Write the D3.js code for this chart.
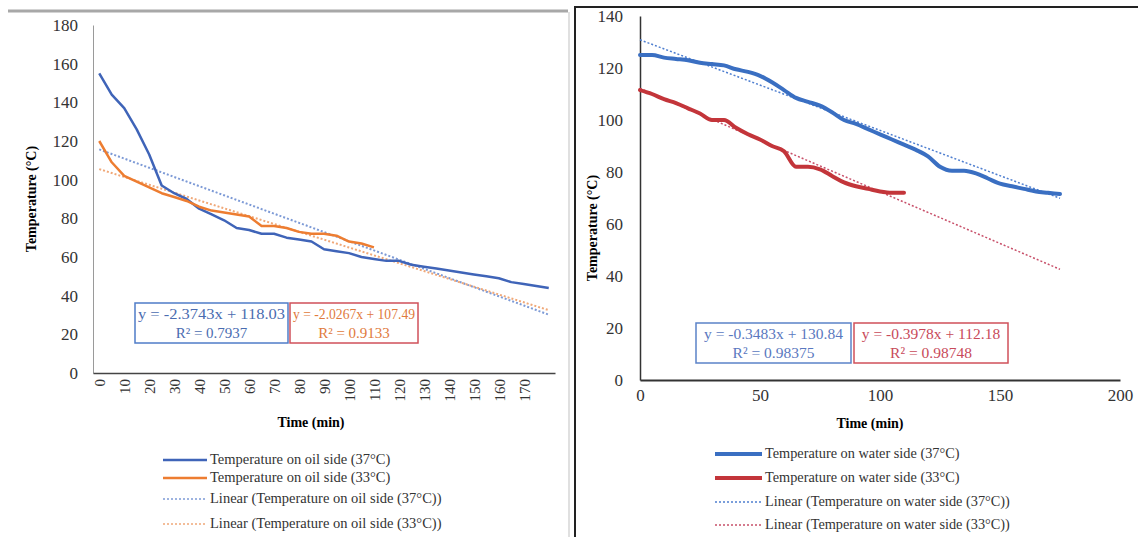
<!DOCTYPE html>
<html>
<head>
<meta charset="utf-8">
<script src="https://cdn.jsdelivr.net/npm/d3@7"></script>
<style>
  body { margin: 0; background: #fff; }
  svg, svg text { font-family: "Liberation Serif", "Times New Roman", serif; }
</style>
</head>
<body>
<div id="chart"></div>
<script>
// left panel: oil side, readings every 5 min
const oilTime = [0, 5, 10, 15, 20, 25, 30, 35, 40, 45, 50, 55, 60, 65, 70, 75, 80, 85, 90,
                 95, 100, 105, 110, 115, 120, 125, 130, 135, 140, 145, 150, 155, 160, 165, 170, 175, 180];
const oil37 = [155, 144, 137, 126, 113, 97, 93, 90, 85, 82, 79, 75, 74, 72, 72, 70, 69, 68, 64,
               63, 62, 60, 59, 58, 58, 56, 55, 54, 53, 52, 51, 50, 49, 47, 46, 45, 44];
const oil33 = [120, 109, 102, 99, 96, 93, 91, 89, 86, 84, 83, 82, 81, 76, 76, 75, 73, 72, 72,
               71, 68, 67, 65];
const oilTicksX = [0, 10, 20, 30, 40, 50, 60, 70, 80, 90, 100, 110, 120, 130, 140, 150, 160, 170];
const oilTicksY = [0, 20, 40, 60, 80, 100, 120, 140, 160, 180];
const oilSlope = [-2.3743, -2.0267];
const oilIntercept = [118.03, 107.49];
const oilR2 = ["0.7937", "0.9133"];
const oilLegend = ["Temperature on oil side (37°C)", "Temperature on oil side (33°C)",
                   "Linear (Temperature on oil side (37°C))", "Linear (Temperature on oil side (33°C))"];

// right panel: water side
const waterTime = [0, 5, 10, 15, 20, 25, 30, 35, 40, 45, 50, 55, 60, 65, 70, 75, 80, 85, 90,
                   95, 100, 105, 110, 115, 120, 125, 130, 135, 140, 145, 150, 155, 160, 165, 170, 175];
const water37 = [125, 125, 124, 123.5, 123, 122, 121.5, 121, 119.5, 118.5, 117, 114.5, 111.5, 108.5,
                 107, 105.5, 103, 100, 98.5, 96.5, 94.5, 92.5, 90.5, 88.5, 86, 82, 80.5, 80.5, 79.5,
                 77.5, 75.5, 74.5, 73.5, 72.5, 72, 71.5];
const water33 = [111.5, 110, 108, 106.5, 104.5, 102.5, 100, 100, 97, 94.5, 92.5, 90, 88, 82, 82, 81,
                 78.5, 76, 74.5, 73.5, 72.5, 72, 72];
const waterTicksX = [0, 50, 100, 150, 200];
const waterTicksY = [0, 20, 40, 60, 80, 100, 120, 140];
const waterSlope = [-0.3483, -0.3978];
const waterIntercept = [130.84, 112.18];
const waterR2 = ["0.98375", "0.98748"];
const waterLegend = ["Temperature on water side (37°C)", "Temperature on water side (33°C)",
                     "Linear (Temperature on water side (37°C))", "Linear (Temperature on water side (33°C))"];

const svg = d3.select("#chart").append("svg")
  .attr("width", 1138)
  .attr("height", 537);

// panel frames
svg.append("line").attr("x1", 8).attr("x2", 568).attr("y1", 11).attr("y2", 11)
  .attr("stroke", "#a8a8a8").attr("stroke-width", 3);
svg.append("line").attr("x1", 569).attr("x2", 569).attr("y1", 12).attr("y2", 537)
  .attr("stroke", "#d6d6d6").attr("stroke-width", 1.5);
svg.append("path").attr("d", "M575,537V7H1138")
  .attr("fill", "none").attr("stroke", "#222").attr("stroke-width", 2);

function eqText(s, b) {
  return "y = " + s + "x + " + b;
}

// ---------- left: oil side ----------
const xL = d3.scaleLinear().domain([-2.5, 182.5]).range([93, 555]);
const yL = d3.scaleLinear().domain([0, 180]).range([373, 25]);

const gYL = svg.append("g").attr("transform", "translate(93,0)")
  .call(d3.axisLeft(yL).tickValues(oilTicksY).tickSize(0).tickPadding(15))
  .attr("font-family", null).attr("font-size", null);
gYL.select(".domain").attr("stroke", "#9a9a9a");
gYL.selectAll("text").style("font-size", "17px").attr("fill", "#333");

const gXL = svg.append("g").attr("transform", "translate(0,373)")
  .call(d3.axisBottom(xL).tickValues(oilTicksX).tickSize(0))
  .attr("font-family", null).attr("font-size", null);
gXL.select(".domain").attr("stroke", "#444").attr("stroke-width", 1.5);
gXL.selectAll("text")
  .attr("transform", "rotate(-90)")
  .attr("x", -6).attr("y", 0).attr("dy", "0.35em")
  .style("text-anchor", "end")
  .style("font-size", "15px").attr("fill", "#333");

svg.append("text").attr("transform", "translate(36,199) rotate(-90)")
  .attr("text-anchor", "middle").style("font-size", "14px").style("font-weight", "bold")
  .text("Temperature (°C)");
svg.append("text").attr("x", 311).attr("y", 427)
  .attr("text-anchor", "middle").style("font-size", "14px").style("font-weight", "bold")
  .text("Time (min)");

const oilColors = ["#3f64b8", "#ed7d31"];
const oilTrendColors = ["#7d9ad6", "#f0a878"];
const lineL = d3.line().x((d, i) => xL(oilTime[i])).y(d => yL(d));

[oil37, oil33].forEach(function(s, k) {
  // trend over category index 1..37
  const tr = oilTime.map((t, i) => [t, oilSlope[k] * (i + 1) + oilIntercept[k]]);
  svg.append("path").datum(tr)
    .attr("d", d3.line().x(d => xL(d[0])).y(d => yL(d[1])))
    .attr("fill", "none").attr("stroke", oilTrendColors[k])
    .attr("stroke-width", 2).attr("stroke-dasharray", "2,2");
});
[oil37, oil33].forEach(function(s, k) {
  svg.append("path").datum(s)
    .attr("d", lineL)
    .attr("fill", "none").attr("stroke", oilColors[k])
    .attr("stroke-width", 2.5).attr("stroke-linejoin", "round");
});

// equation boxes
const oilBoxes = [{x: 135, w: 153, stroke: "#4f7cc8", fill: "#4a6cb0"},
                  {x: 290, w: 128, stroke: "#d0505a", fill: "#df7a3c"}];
oilBoxes.forEach(function(b, k) {
  svg.append("rect").attr("x", b.x).attr("y", 303).attr("width", b.w).attr("height", 40)
    .attr("fill", "#fff").attr("stroke", b.stroke).attr("stroke-width", 1.5);
  svg.append("text").attr("x", b.x + b.w / 2).attr("y", 319).attr("text-anchor", "middle")
    .style("font-size", "15px").attr("fill", b.fill)
    .attr("textLength", b.w - 6).attr("lengthAdjust", "spacingAndGlyphs")
    .text(eqText(oilSlope[k].toFixed(4), oilIntercept[k].toFixed(2)));
  svg.append("text").attr("x", b.x + b.w / 2).attr("y", 338).attr("text-anchor", "middle")
    .style("font-size", "15px").attr("fill", b.fill)
    .text("R² = " + oilR2[k]);
});

// legend
const oilLegY = [460, 478, 499, 524];
const oilLegStroke = [oilColors[0], oilColors[1], oilTrendColors[0], oilTrendColors[1]];
oilLegend.forEach(function(label, k) {
  svg.append("line").attr("x1", 163).attr("x2", 207)
    .attr("y1", oilLegY[k]).attr("y2", oilLegY[k])
    .attr("stroke", oilLegStroke[k]).attr("stroke-width", k < 2 ? 2.5 : 1.5)
    .attr("stroke-dasharray", k < 2 ? null : "2,2");
  svg.append("text").attr("x", 210).attr("y", oilLegY[k] + 4)
    .style("font-size", "14.5px").attr("fill", "#333").text(label);
});

// ---------- right: water side ----------
const xR = d3.scaleLinear().domain([0, 200]).range([640, 1120]);
const yR = d3.scaleLinear().domain([0, 140]).range([380, 16]);

const gYR = svg.append("g").attr("transform", "translate(640,0)")
  .call(d3.axisLeft(yR).tickValues(waterTicksY).tickSize(0).tickPadding(17))
  .attr("font-family", null).attr("font-size", null);
gYR.select(".domain").attr("stroke", "#333").attr("stroke-width", 1.5);
gYR.selectAll("text").style("font-size", "17px").attr("fill", "#333");

const gXR = svg.append("g").attr("transform", "translate(0,380)")
  .call(d3.axisBottom(xR).tickValues(waterTicksX).tickSize(0).tickPadding(9))
  .attr("font-family", null).attr("font-size", null);
gXR.select(".domain").attr("stroke", "#333").attr("stroke-width", 2);
gXR.selectAll("text").style("font-size", "17px").attr("fill", "#333");

svg.append("text").attr("transform", "translate(597,228) rotate(-90)")
  .attr("text-anchor", "middle").style("font-size", "14px").style("font-weight", "bold")
  .text("Temperature (°C)");
svg.append("text").attr("x", 870).attr("y", 428)
  .attr("text-anchor", "middle").style("font-size", "14px").style("font-weight", "bold")
  .text("Time (min)");

const waterColors = ["#3a6fc2", "#c3353a"];
const waterTrendColors = ["#4f7fd0", "#c8506a"];
const trendEnd = waterTime[waterTime.length - 1];

[0, 1].forEach(function(k) {
  svg.append("path").datum([0, trendEnd])
    .attr("d", d3.line().x(t => xR(t)).y(t => yR(waterSlope[k] * t + waterIntercept[k])))
    .attr("fill", "none").attr("stroke", waterTrendColors[k])
    .attr("stroke-width", 1.5).attr("stroke-dasharray", "2,2");
});
[water37, water33].forEach(function(s, k) {
  svg.append("path").datum(s)
    .attr("d", d3.line().curve(d3.curveMonotoneX).x((d, i) => xR(waterTime[i])).y(d => yR(d)))
    .attr("fill", "none").attr("stroke", waterColors[k])
    .attr("stroke-width", 4).attr("stroke-linecap", "round");
});

const waterBoxes = [{x: 696, w: 155, stroke: "#5b82c8", fill: "#5a78c0"},
                    {x: 854, w: 154, stroke: "#d0505a", fill: "#c84a5a"}];
waterBoxes.forEach(function(b, k) {
  svg.append("rect").attr("x", b.x).attr("y", 323).attr("width", b.w).attr("height", 40)
    .attr("fill", "#fff").attr("stroke", b.stroke).attr("stroke-width", 1.5);
  svg.append("text").attr("x", b.x + b.w / 2).attr("y", 339).attr("text-anchor", "middle")
    .style("font-size", "15.5px").attr("fill", b.fill)
    .text(eqText(waterSlope[k].toFixed(4), waterIntercept[k].toFixed(2)));
  svg.append("text").attr("x", b.x + b.w / 2).attr("y", 358).attr("text-anchor", "middle")
    .style("font-size", "15.5px").attr("fill", b.fill)
    .text("R² = " + waterR2[k]);
});

const waterLegY = [454, 478, 502, 525];
const waterLegStroke = [waterColors[0], waterColors[1], waterTrendColors[0], waterTrendColors[1]];
waterLegend.forEach(function(label, k) {
  svg.append("line").attr("x1", 715).attr("x2", 762)
    .attr("y1", waterLegY[k]).attr("y2", waterLegY[k])
    .attr("stroke", waterLegStroke[k]).attr("stroke-width", k < 2 ? 4 : 1.5)
    .attr("stroke-dasharray", k < 2 ? null : "2,2");
  svg.append("text").attr("x", 765).attr("y", waterLegY[k] + 4)
    .style("font-size", "14.3px").attr("fill", "#333").text(label);
});
</script>
</body>
</html>
